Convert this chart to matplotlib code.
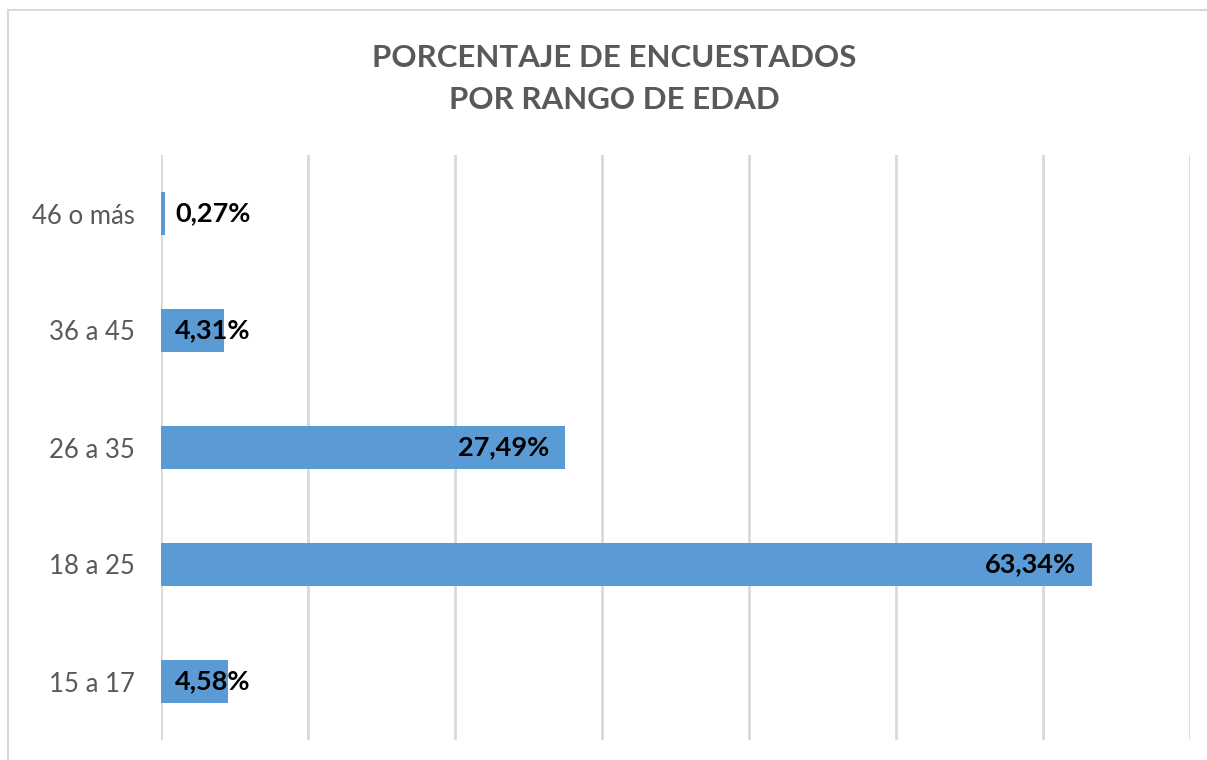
import matplotlib
matplotlib.use("Agg")
import matplotlib.pyplot as plt
from matplotlib.lines import Line2D

categories = ["15 a 17", "18 a 25", "26 a 35", "36 a 45", "46 o más"]
values = [4.58, 63.34, 27.49, 4.31, 0.27]
labels = ["4,58%", "63,34%", "27,49%", "4,31%", "0,27%"]
title = "PORCENTAJE DE ENCUESTADOS\nPOR RANGO DE EDAD"

plt.rcParams['font.family'] = ['Lato', 'DejaVu Sans']

W, H = 1207, 760
fig = plt.figure(figsize=(W / 100, H / 100), dpi=100)
ax = fig.add_axes([161 / W, 1 - 740 / H, (1190 - 161) / W, (740 - 155) / H])

ypos = list(range(len(categories)))
ax.barh(ypos, values, height=0.36, color="#5B9BD5", zorder=3)
ax.set_xlim(0, 70)
ax.set_ylim(-0.5, len(categories) - 0.5)
ax.set_xticks(range(0, 71, 10))
ax.set_xticklabels([])
ax.set_yticks(ypos)
ax.set_yticklabels(categories, fontsize=18.5, color="#595959")
ax.tick_params(axis="both", length=0)
ax.tick_params(axis="y", pad=19)
ax.grid(axis="x", color="#D9D9D9", linewidth=2, zorder=0)
for s in ax.spines.values():
    s.set_visible(False)

for y, v, lab in zip(ypos, values, labels):
    if v > 10:
        ax.text(v - 1.1, y, lab, ha="right", va="center", fontsize=19.5,
                fontweight="bold", color="black", zorder=4)
    else:
        ax.text(0.95, y, lab, ha="left", va="center", fontsize=19.5,
                fontweight="bold", color="black", zorder=4)

fig.text(614 / W, 1 - 79 / H, title, ha="center", va="center", fontsize=22.5,
         fontweight="bold", color="#595959", linespacing=1.6)

fig.add_artist(Line2D([8 / W, 8 / W], [0, 1 - 10 / H], transform=fig.transFigure,
                      color="#D9D9D9", linewidth=1.5))
fig.add_artist(Line2D([8 / W, 1], [1 - 10 / H, 1 - 10 / H], transform=fig.transFigure,
                      color="#D9D9D9", linewidth=1.5))

fig.savefig("out.png", dpi=100)
